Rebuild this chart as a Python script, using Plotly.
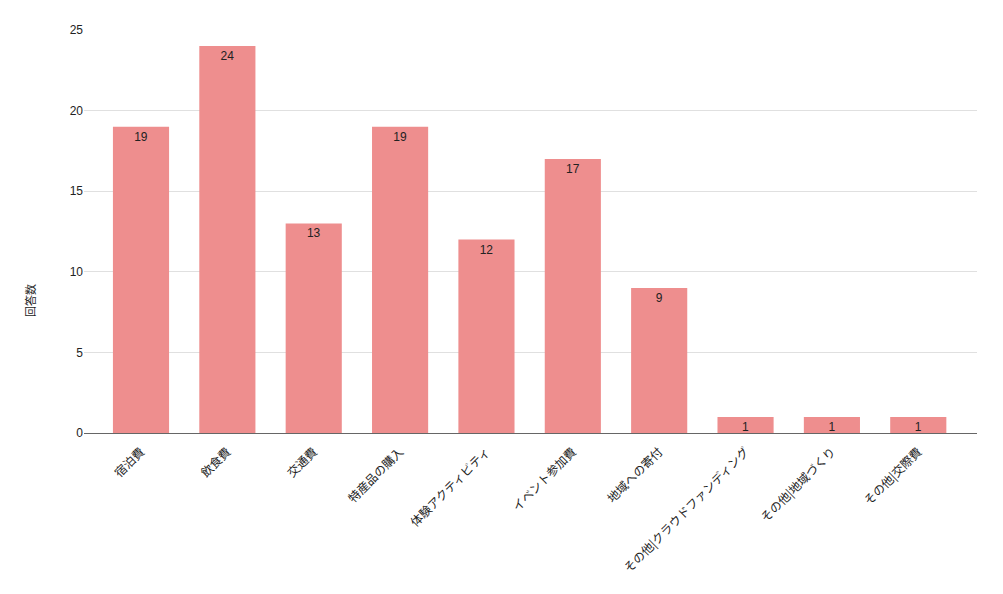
import plotly.graph_objects as go

categories = ["宿泊費", "飲食費", "交通費", "特産品の購入", "体験アクティビティ",
              "イベント参加費", "地域への寄付", "その他|クラウドファンディング",
              "その他|地域づくり", "その他|交際費"]
values = [19, 24, 13, 19, 12, 17, 9, 1, 1, 1]
y_title = "回答数"

fig = go.Figure(go.Bar(
    x=list(range(len(categories))), y=values,
    marker=dict(color="#EE8E8E", line=dict(width=0)),
    width=0.65,
    text=[str(v) for v in values], textposition="inside",
    insidetextanchor="end", textangle=0, constraintext="none",
    textfont=dict(color="#222222", size=12, family="Arial, 'Liberation Sans', sans-serif"),
))

fig.add_annotation(
    text=y_title, textangle=-90, showarrow=False,
    xref="paper", yref="paper", x=-0.0605, y=0.33,
    xanchor="center", yanchor="middle",
    font=dict(size=11, family="'Noto Sans CJK JP', sans-serif", color="#222222"),
)

fig.update_layout(
    width=1003, height=594,
    margin=dict(l=76, r=34, t=22, b=169),
    paper_bgcolor="white", plot_bgcolor="white",
    font=dict(family="Arial, 'Liberation Sans', 'Noto Sans CJK JP', sans-serif", color="#222222", size=12),
    showlegend=False,
    xaxis=dict(
        tickmode="array", tickvals=list(range(len(categories))), ticktext=categories,
        tickangle=-45, range=[-0.66, 9.68], showgrid=False,
        showline=True, linecolor="#666666", linewidth=1,
        ticklabelstandoff=6,
        tickfont=dict(size=12, family="'Noto Sans CJK JP', sans-serif", color="#222222"),
    ),
    yaxis=dict(
        range=[0, 25], dtick=5, showgrid=True, gridcolor="#e0e0e0", gridwidth=1,
        zeroline=False, showline=False, ticks="", ticklen=0,
        tickfont=dict(size=12, color="#222222"),
    ),
)

fig.write_html("out.html")
